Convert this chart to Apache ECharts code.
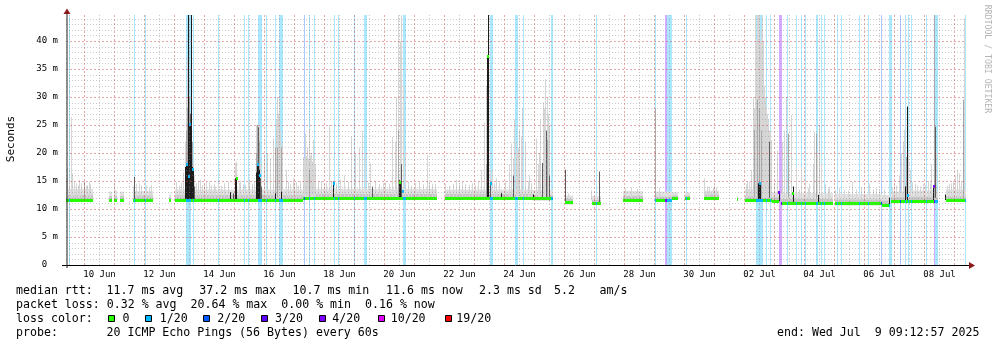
<!DOCTYPE html>
<html>
<head>
<meta charset="utf-8">
<script src="https://cdn.jsdelivr.net/npm/echarts@6/dist/echarts.min.js"></script>
<style>
  html, body { margin: 0; padding: 0; background: #ffffff; }
  #chart { width: 997px; height: 347px; }
</style>
</head>
<body>
<div id="chart"></div>
<script>
// ---- time window (MM-DD HH:MM[:SS], 2025) ----
const RANGE_START = '06-09 09:12:57';
const RANGE_END = '07-09 09:12:57';

// ---- x axis labels (centred on the day) ----
const tickLabels = ['10 Jun', '12 Jun', '14 Jun', '16 Jun', '18 Jun', '20 Jun', '22 Jun', '24 Jun',
  '26 Jun', '28 Jun', '30 Jun', '02 Jul', '04 Jul', '06 Jul', '08 Jul'];
const tickLabelTimes = ['06-10 12:00', '06-12 12:00', '06-14 12:00', '06-16 12:00', '06-18 12:00',
  '06-20 12:00', '06-22 12:00', '06-24 12:00', '06-26 12:00', '06-28 12:00', '06-30 12:00',
  '07-02 12:00', '07-04 12:00', '07-06 12:00', '07-08 12:00'];

// ---- loss colours (lost pings out of 20) ----
const lossLevels = [0, 1, 2, 3, 4, 10, 19];
const lossLevelNames = ['0', '1/20', '2/20', '3/20', '4/20', '10/20', '19/20'];
const lossLevelColors = ['#26ff00', '#00b8ff', '#0059ff', '#5e00ff', '#7e00ff', '#dd00ff', '#ff0000'];

// ---- periods with packet loss: [from, to, lost pings] ----
const lossPeriods = [
  ['06-09 11:17', '06-09 12:14', 1], ['06-11 15:36', '06-11 16:24', 1], ['06-12 00:24', '06-12 01:12', 1],
  ['06-13 09:12', '06-13 12:58', 1], ['06-13 14:34', '06-13 15:50', 1], ['06-14 11:02', '06-14 11:50', 1],
  ['06-15 07:36', '06-15 08:24', 1], ['06-15 11:02', '06-15 11:50', 1], ['06-15 18:34', '06-15 22:14', 1],
  ['06-16 01:12', '06-16 02:00', 1], ['06-16 08:24', '06-16 09:12', 1], ['06-16 11:50', '06-16 14:34', 1],
  ['06-17 07:36', '06-17 08:24', 2], ['06-17 12:00', '06-17 12:48', 1], ['06-17 15:36', '06-17 16:24', 1],
  ['06-18 07:36', '06-18 08:24', 1], ['06-18 10:48', '06-18 11:36', 1], ['06-18 23:36', '06-19 00:24', 1],
  ['06-19 07:50', '06-19 10:24', 1], ['06-20 14:34', '06-20 16:58', 1], ['06-23 12:24', '06-23 14:38', 1],
  ['06-24 08:24', '06-24 10:34', 1], ['06-24 14:48', '06-24 15:36', 1], ['06-25 13:12', '06-25 14:34', 1],
  ['06-27 01:12', '06-27 02:00', 1], ['06-29 00:48', '06-29 01:36', 1], ['06-29 08:48', '06-29 09:50', 4],
  ['06-29 10:24', '06-29 14:14', 1], ['06-30 01:12', '06-30 02:00', 1], ['07-02 09:12', '07-02 15:02', 1],
  ['07-02 17:12', '07-02 18:00', 1], ['07-02 20:48', '07-02 21:36', 1], ['07-03 03:36', '07-03 06:00', 4],
  ['07-03 10:00', '07-03 10:48', 1], ['07-03 17:12', '07-03 18:00', 1], ['07-03 21:12', '07-03 22:00', 1],
  ['07-04 00:48', '07-04 01:36', 1], ['07-04 09:12', '07-04 10:48', 1], ['07-04 13:36', '07-04 14:24', 1],
  ['07-04 16:00', '07-04 16:48', 1], ['07-05 01:46', '07-05 02:34', 1], ['07-05 05:36', '07-05 06:24', 1],
  ['07-05 19:36', '07-05 20:24', 1], ['07-06 02:48', '07-06 03:36', 1], ['07-06 13:36', '07-06 14:24', 2],
  ['07-06 19:46', '07-06 22:14', 1], ['07-07 04:24', '07-07 05:12', 2], ['07-07 08:24', '07-07 09:12', 1],
  ['07-07 10:48', '07-07 11:36', 1], ['07-07 13:12', '07-07 14:24', 1], ['07-08 01:12', '07-08 02:00', 1],
  ['07-08 07:22', '07-08 08:48', 4], ['07-08 08:48', '07-08 10:48', 1], ['07-09 08:24', '07-09 09:12', 1]
];

// ---- stretches with data: [from, to, median ms, inner smoke ms, outer smoke ms] ----
const medianRuns = [
  ['06-09 09:13', '06-10 06:48', 11.6, 12.5, 13.6],
  ['06-10 19:36', '06-10 22:00', 11.6, 12.3, 13.1],
  ['06-10 23:36', '06-11 02:00', 11.6, 12.3, 13.4],
  ['06-11 04:24', '06-11 07:36', 11.6, 12.3, 13.1],
  ['06-11 14:48', '06-12 06:48', 11.6, 12.4, 13.2],
  ['06-12 19:36', '06-12 21:12', 11.6, 12.1, 12.6],
  ['06-13 00:24', '06-17 06:48', 11.6, 12.5, 13.5],
  ['06-17 06:48', '06-21 18:00', 11.9, 12.7, 13.6],
  ['06-22 00:24', '06-24 22:48', 11.9, 12.7, 13.5],
  ['06-24 22:48', '06-25 14:34', 11.8, 12.5, 13.4],
  ['06-26 00:24', '06-26 06:48', 11.1, 11.8, 12.4],
  ['06-26 22:00', '06-27 05:12', 11.0, 11.6, 12.3],
  ['06-27 22:48', '06-28 14:48', 11.55, 12.3, 13.2],
  ['06-29 00:24', '06-29 14:00', 11.5, 12.2, 13.1],
  ['06-29 14:00', '06-29 18:48', 11.9, 12.4, 13.0],
  ['06-30 00:24', '06-30 04:24', 11.9, 12.4, 13.0],
  ['06-30 15:36', '07-01 03:36', 11.85, 12.6, 13.3],
  ['07-01 17:48', '07-01 19:00', 11.7, 12.0, 12.3],
  ['07-02 00:24', '07-02 22:00', 11.6, 12.3, 13.6],
  ['07-02 22:00', '07-03 03:36', 11.4, 12.1, 13.0],
  ['07-03 05:12', '07-04 22:48', 10.95, 11.8, 12.8],
  ['07-05 00:24', '07-06 14:00', 10.9, 11.7, 12.7],
  ['07-06 14:00', '07-06 20:24', 10.7, 11.5, 12.5],
  ['07-06 21:12', '07-07 10:00', 11.3, 12.1, 13.1],
  ['07-07 10:00', '07-08 06:48', 11.4, 12.2, 13.3],
  ['07-08 06:48', '07-08 10:48', 11.3, 12.1, 13.2],
  ['07-08 17:12', '07-09 09:13', 11.6, 12.3, 13.5]
];

// ---- isolated median readings above the baseline: [time, ms] ----
const medianPeaks = [
  ['06-13 10:00', 17.9], ['06-13 11:50', 15.8], ['06-13 12:48', 25.0], ['06-13 15:02', 17.0],
  ['06-15 01:46', 15.4], ['06-15 19:12', 18.0], ['06-15 20:48', 15.9], ['06-18 08:00', 14.6],
  ['06-20 12:24', 14.8], ['06-20 15:12', 13.1], ['06-23 10:48', 37.2], ['06-23 13:12', 14.6],
  ['07-02 12:48', 14.6], ['07-03 04:00', 13.0], ['07-03 15:12', 12.8], ['07-07 10:48', 12.4],
  ['07-08 08:00', 14.0]
];

// ---- ping spread columns: [time, from ms, to ms, shade 0 light .. 3 black] ----
const smokeColumns = [
  ['06-09 09:36', 12, 15.5, 0], ['06-09 10:48', 12, 17.3, 0], ['06-09 12:24', 12, 15, 0],
  ['06-09 14:00', 12, 26.4, 0], ['06-09 14:48', 12, 16.4, 0], ['06-09 16:00', 12, 14.8, 0],
  ['06-09 18:00', 12, 14.6, 0], ['06-09 19:12', 12, 14.2, 0], ['06-09 20:24', 12, 15.2, 0],
  ['06-09 22:00', 12, 14.6, 0], ['06-10 00:24', 11.6, 14.9, 1], ['06-10 01:36', 12, 14.1, 0],
  ['06-10 02:48', 12, 14.3, 0], ['06-10 04:00', 12, 14.8, 0], ['06-10 05:12', 12, 14.4, 0],
  ['06-11 00:24', 12, 14.6, 0], ['06-11 15:12', 12, 14.0, 0], ['06-11 16:00', 11.6, 15.7, 2],
  ['06-11 18:00', 12, 14.5, 0], ['06-11 20:24', 12, 14.6, 0], ['06-11 22:00', 12, 14.2, 0],
  ['06-12 02:00', 12, 14.2, 0], ['06-12 04:24', 12, 13.9, 0], ['06-12 05:36', 12, 14.3, 0],
  ['06-13 02:00', 12, 14.8, 0], ['06-13 04:00', 12, 14.2, 0], ['06-13 06:00', 12, 14.7, 0],
  ['06-13 07:36', 12, 16.5, 0],
  ['06-13 09:12', 12, 22, 0], ['06-13 09:12', 11.6, 17.5, 3],
  ['06-13 10:00', 12, 30, 0], ['06-13 10:00', 12, 24, 1], ['06-13 10:00', 11.6, 17.9, 3],
  ['06-13 10:48', 12, 37, 0], ['06-13 10:48', 12, 28, 1], ['06-13 10:48', 11.6, 18, 3],
  ['06-13 11:36', 11.6, 45, 3],
  ['06-13 12:24', 12, 30, 1], ['06-13 12:24', 11.6, 25, 3],
  ['06-13 13:12', 12, 27, 2], ['06-13 13:12', 11.6, 25, 3],
  ['06-13 14:00', 11.6, 45, 3],
  ['06-13 14:48', 12, 22, 1], ['06-13 14:48', 11.6, 17.5, 3],
  ['06-13 15:36', 12, 18, 0], ['06-13 15:36', 11.6, 17, 3],
  ['06-13 16:24', 12, 16, 0], ['06-13 16:24', 11.6, 14, 2],
  ['06-13 18:00', 12, 14.6, 0], ['06-13 19:36', 12, 14.9, 0], ['06-13 21:00', 12, 15.2, 0],
  ['06-13 22:48', 12, 14.3, 0], ['06-14 00:24', 12, 14.4, 0], ['06-14 02:00', 12, 14.8, 0],
  ['06-14 04:00', 12, 14.9, 0], ['06-14 06:00', 12, 14.3, 0], ['06-14 08:00', 12, 14.5, 0],
  ['06-14 09:12', 12, 14.0, 0], ['06-14 11:36', 12, 14.8, 0], ['06-14 14:00', 12, 14.2, 0],
  ['06-14 16:24', 12, 14.6, 0], ['06-14 19:12', 12, 14.9, 0],
  ['06-14 21:12', 11.6, 13, 3], ['06-14 23:12', 11.6, 12.8, 2],
  ['06-15 01:12', 12, 18.2, 0], ['06-15 01:12', 11.6, 15.5, 3],
  ['06-15 02:00', 12, 18.5, 0], ['06-15 02:00', 11.6, 15.5, 3],
  ['06-15 04:00', 12, 14.6, 0], ['06-15 05:12', 12, 15, 0], ['06-15 07:00', 12, 14.4, 0],
  ['06-15 09:12', 12, 14.3, 0], ['06-15 11:00', 12, 14.8, 0], ['06-15 12:24', 12, 15.2, 0],
  ['06-15 14:48', 12, 14.5, 0], ['06-15 16:00', 12, 14.9, 0],
  ['06-15 18:00', 12, 25, 0], ['06-15 18:00', 12, 20, 1], ['06-15 18:00', 11.6, 16.5, 3],
  ['06-15 18:48', 12, 25, 0], ['06-15 18:48', 12, 25, 1], ['06-15 18:48', 11.6, 18.2, 3],
  ['06-15 19:36', 12, 25, 0], ['06-15 19:36', 12, 24.6, 2], ['06-15 19:36', 11.6, 18, 3],
  ['06-15 20:24', 12, 25, 0], ['06-15 20:24', 12, 22, 1], ['06-15 20:24', 11.6, 17, 3],
  ['06-15 21:12', 12, 18, 0], ['06-15 21:12', 11.6, 15.5, 2],
  ['06-15 22:00', 12, 16, 0], ['06-15 22:00', 11.6, 14, 2],
  ['06-16 00:24', 12, 19.6, 0], ['06-16 02:48', 12, 20, 0], ['06-16 05:12', 12, 19, 0],
  ['06-16 07:36', 12, 22.6, 0], ['06-16 08:48', 12, 21, 1], ['06-16 08:48', 11.6, 12.8, 3],
  ['06-16 09:36', 12, 22.6, 0], ['06-16 10:00', 12, 26, 0], ['06-16 10:48', 12, 30, 0],
  ['06-16 10:48', 12, 21, 1], ['06-16 11:36', 12, 27, 0], ['06-16 12:24', 12, 29.5, 0],
  ['06-16 13:00', 12, 24, 0], ['06-16 13:26', 12, 21, 1], ['06-16 13:26', 11.6, 13.1, 3],
  ['06-16 14:48', 12, 22, 0], ['06-16 18:00', 12, 17, 0], ['06-16 19:36', 12, 14.9, 0],
  ['06-16 21:12', 12, 14.4, 0], ['06-16 23:00', 12, 15.4, 0], ['06-17 00:24', 12, 14.6, 0],
  ['06-17 02:00', 12, 14.8, 0], ['06-17 03:36', 12, 14.2, 0], ['06-17 05:12', 12, 15.0, 0],
  ['06-17 07:36', 12, 19.3, 0], ['06-17 08:24', 12, 19, 0], ['06-17 09:12', 12, 23.5, 0],
  ['06-17 10:00', 12, 19.5, 0], ['06-17 10:48', 12, 21, 0], ['06-17 11:36', 12, 19, 0],
  ['06-17 12:24', 12, 24.1, 0], ['06-17 12:24', 12, 17, 1], ['06-17 13:12', 12, 19.5, 0],
  ['06-17 14:00', 12, 20, 0], ['06-17 14:48', 12, 18.5, 0], ['06-17 15:36', 12, 22.3, 0],
  ['06-17 16:24', 12, 19, 0], ['06-17 17:12', 12, 18, 0], ['06-17 19:36', 12, 14.9, 0],
  ['06-17 22:00', 12, 15, 0], ['06-18 00:00', 12, 14.5, 0], ['06-18 02:00', 12, 14.6, 0],
  ['06-18 04:24', 12, 25, 0], ['06-18 06:00', 12, 15.0, 0], ['06-18 07:36', 11.9, 14.9, 3],
  ['06-18 10:00', 12, 14.6, 0], ['06-18 13:12', 12, 15.2, 0], ['06-18 16:24', 12, 16, 0],
  ['06-18 19:00', 12, 14.8, 0], ['06-18 22:00', 12, 23, 0], ['06-19 01:12', 12, 20, 0],
  ['06-19 04:24', 12, 21, 0], ['06-19 06:48', 12, 24, 0], ['06-19 09:12', 12, 20, 0],
  ['06-19 11:36', 12, 14.7, 0], ['06-19 13:12', 12, 18.2, 0], ['06-19 14:30', 11.9, 14, 2],
  ['06-19 17:00', 12, 14.9, 0], ['06-19 20:24', 12, 14.5, 0], ['06-19 23:00', 12, 14.6, 0],
  ['06-20 01:12', 12, 14.8, 0], ['06-20 04:00', 12, 14.5, 0], ['06-20 06:48', 12, 22.9, 0],
  ['06-20 09:12', 12, 22, 0], ['06-20 10:00', 12, 30, 0],
  ['06-20 11:12', 12, 45, 0], ['06-20 11:12', 12, 24, 1], ['06-20 12:00', 11.9, 15.2, 3],
  ['06-20 12:48', 12, 40, 0], ['06-20 12:48', 11.9, 15, 3],
  ['06-20 14:00', 12, 45, 0], ['06-20 14:00', 12, 18, 2],
  ['06-20 15:36', 12, 32, 0], ['06-20 17:12', 12, 20, 0], ['06-20 19:36', 12, 14.9, 0],
  ['06-20 22:00', 12, 14.2, 0], ['06-21 01:12', 12, 14.6, 0], ['06-21 04:24', 12, 14.8, 0],
  ['06-21 07:36', 12, 14.4, 0], ['06-21 10:48', 12, 19.6, 0], ['06-21 12:24', 12, 14.9, 0],
  ['06-21 14:48', 12, 14.5, 0], ['06-21 16:48', 12, 14.5, 0],
  ['06-22 01:12', 12, 14.6, 0], ['06-22 04:24', 12, 14.2, 0], ['06-22 07:36', 12, 14.5, 0],
  ['06-22 10:00', 12, 15.2, 0], ['06-22 12:24', 12, 14.6, 0], ['06-22 14:48', 12, 14.8, 0],
  ['06-22 17:12', 12, 14.4, 0], ['06-22 20:24', 12, 14.3, 0], ['06-22 22:48', 12, 14.6, 0],
  ['06-23 01:12', 12, 14.3, 0], ['06-23 03:36', 12, 14.8, 0], ['06-23 06:00', 12, 17, 0],
  ['06-23 08:24', 12, 25.4, 0], ['06-23 10:00', 12, 32, 0], ['06-23 10:00', 12, 18, 1],
  ['06-23 10:48', 11.9, 37.2, 3], ['06-23 11:36', 11.9, 45, 3],
  ['06-23 13:12', 12, 17, 0], ['06-23 13:12', 11.9, 14.6, 2],
  ['06-23 14:48', 12, 17, 0], ['06-23 16:24', 12, 14.5, 0], ['06-23 18:00', 12, 15.5, 0],
  ['06-23 20:00', 12, 14.7, 0], ['06-23 21:46', 11.9, 12.8, 3],
  ['06-24 01:12', 12, 15, 0], ['06-24 04:24', 12, 18, 0], ['06-24 06:00', 12, 21.7, 0],
  ['06-24 07:36', 12, 19, 0], ['06-24 07:36', 12, 16, 2], ['06-24 08:24', 12, 26, 0],
  ['06-24 09:36', 12, 22, 0], ['06-24 10:48', 12, 20, 0], ['06-24 11:36', 12, 21, 0],
  ['06-24 12:24', 12, 24, 0], ['06-24 13:36', 12, 23, 0], ['06-24 14:48', 12, 28, 0],
  ['06-24 17:12', 12, 22, 0], ['06-24 19:00', 12, 15.0, 0], ['06-24 20:24', 12, 16, 0],
  ['06-24 22:00', 12, 14.6, 0], ['06-24 23:36', 11.8, 12.6, 3],
  ['06-25 02:00', 12, 22.6, 0], ['06-25 03:36', 12, 18, 0], ['06-25 04:24', 12, 20, 0],
  ['06-25 05:12', 12, 26, 0], ['06-25 06:24', 11.8, 18.2, 2], ['06-25 07:36', 12, 29, 0],
  ['06-25 08:24', 12, 28, 0], ['06-25 09:12', 12, 33.2, 0], ['06-25 10:00', 11.8, 24, 2],
  ['06-25 10:48', 12, 30, 0], ['06-25 10:48', 12, 22.3, 1], ['06-25 11:36', 12, 27, 0],
  ['06-25 12:24', 12, 25, 0], ['06-25 12:24', 11.5, 16, 2],
  ['06-26 01:12', 11.1, 17, 2], ['06-26 03:36', 11.8, 12.8, 0], ['06-26 22:00', 11.5, 13.4, 0],
  ['06-27 03:50', 11.0, 16.7, 2], ['06-28 01:12', 12, 13.7, 0], ['06-28 06:00', 12, 13.9, 0],
  ['06-28 10:48', 12, 13.6, 0], ['06-29 01:12', 11.5, 28, 1], ['06-29 04:24', 12, 13.8, 0],
  ['06-30 16:24', 12, 15.5, 0], ['06-30 18:48', 12, 14.0, 0], ['06-30 20:24', 12, 14, 0],
  ['06-30 23:00', 12, 13.8, 0], ['07-01 00:24', 12, 14.2, 0], ['07-01 02:00', 12, 13.9, 0],
  ['07-02 01:36', 12, 14.5, 0], ['07-02 02:48', 12, 14.9, 0], ['07-02 04:24', 12, 14.9, 0],
  ['07-02 06:00', 12, 17, 0], ['07-02 07:36', 12, 30, 0], ['07-02 08:00', 12, 28, 0],
  ['07-02 08:24', 12, 24.1, 1], ['07-02 09:12', 12, 45, 0], ['07-02 09:36', 12, 40, 0],
  ['07-02 10:00', 12, 36, 0], ['07-02 10:24', 12, 42, 0],
  ['07-02 10:48', 12, 45, 0], ['07-02 10:48', 12, 29.5, 1], ['07-02 11:12', 12, 45, 0],
  ['07-02 11:36', 12, 38, 0], ['07-02 11:36', 11.6, 14.6, 3], ['07-02 12:00', 12, 44, 0],
  ['07-02 12:24', 12, 45, 0], ['07-02 12:24', 12, 28, 1], ['07-02 12:24', 11.6, 14.6, 3],
  ['07-02 13:12', 12, 40, 0], ['07-02 13:12', 11.6, 14.6, 3], ['07-02 13:36', 12, 42, 0],
  ['07-02 14:00', 12, 38, 0], ['07-02 14:00', 12, 24, 1], ['07-02 14:48', 12, 45, 0],
  ['07-02 15:00', 12, 40, 0], ['07-02 15:36', 12, 35, 0], ['07-02 16:24', 12, 32, 0],
  ['07-02 17:12', 12, 30, 0], ['07-02 18:00', 12, 28, 0], ['07-02 18:48', 12, 27, 0],
  ['07-02 19:36', 12, 26, 0], ['07-02 20:24', 12, 24, 0], ['07-02 20:24', 12, 22, 2],
  ['07-02 21:12', 12, 24, 0], ['07-02 22:00', 12, 22.3, 0], ['07-03 00:24', 12, 14.5, 0],
  ['07-03 02:48', 12, 20.5, 0], ['07-03 04:00', 11.4, 13.1, 3], ['07-03 06:48', 12, 22, 0],
  ['07-03 08:24', 12, 24, 0], ['07-03 10:00', 12, 30, 0], ['07-03 11:36', 12, 23.5, 1],
  ['07-03 13:46', 12, 26.8, 0], ['07-03 15:12', 11, 14, 3], ['07-03 18:00', 12, 17.5, 0],
  ['07-03 20:00', 12, 13.5, 0], ['07-03 21:46', 12, 17.5, 0], ['07-04 01:12', 12, 15, 0],
  ['07-04 03:00', 12, 13.7, 0], ['07-04 04:24', 12, 14.5, 0], ['07-04 07:36', 12, 18, 0],
  ['07-04 08:24', 12, 23.8, 0], ['07-04 09:46', 12, 23.5, 1], ['07-04 10:48', 12, 20, 0],
  ['07-04 11:36', 11, 12.5, 3], ['07-04 12:24', 12, 25, 0], ['07-04 14:00', 12, 18, 0],
  ['07-04 17:12', 12, 14.5, 0], ['07-04 19:00', 12, 13.6, 0], ['07-04 20:24', 12, 14, 0],
  ['07-05 01:12', 12, 13.4, 0], ['07-05 04:24', 12, 13.8, 0], ['07-05 08:00', 12, 13.5, 0],
  ['07-05 11:12', 12, 13.3, 0], ['07-05 14:48', 12, 14.9, 0], ['07-05 17:36', 12, 13.5, 0],
  ['07-05 22:00', 12, 13.9, 0], ['07-06 00:24', 12, 13.6, 0], ['07-06 04:24', 12, 14.6, 0],
  ['07-06 07:12', 12, 13.4, 0], ['07-06 10:00', 12, 13.7, 0], ['07-06 12:00', 12, 13.5, 0],
  ['07-06 16:24', 12, 13.5, 0], ['07-06 20:24', 10.6, 12, 3], ['07-06 22:48', 12, 13.9, 0],
  ['07-07 00:24', 12, 14.4, 0], ['07-07 02:00', 12, 14.2, 0], ['07-07 04:24', 12, 16, 0],
  ['07-07 06:00', 12, 20, 0], ['07-07 07:36', 12, 22, 0], ['07-07 08:24', 12, 24.1, 0],
  ['07-07 09:12', 11.3, 14, 3], ['07-07 10:00', 12, 19.3, 1], ['07-07 10:48', 11.4, 28.3, 3],
  ['07-07 11:36', 12, 20, 0], ['07-07 13:12', 12, 17, 0], ['07-07 14:48', 12, 14.8, 0],
  ['07-07 16:48', 12, 14.5, 0], ['07-07 18:48', 12, 14.2, 0], ['07-07 20:48', 12, 14.0, 0],
  ['07-07 23:36', 12, 14.5, 0], ['07-08 01:12', 12, 14.3, 0], ['07-08 03:36', 12, 15, 0],
  ['07-08 04:48', 12, 14.6, 0], ['07-08 06:00', 12, 18, 0],
  ['07-08 07:36', 11.3, 14, 3], ['07-08 08:24', 12, 45, 1], ['07-08 09:12', 12, 24.7, 2],
  ['07-08 10:00', 12, 20, 0], ['07-08 17:12', 11.6, 12.6, 3], ['07-08 18:48', 12, 14.2, 0],
  ['07-08 20:24', 12, 14.5, 0], ['07-08 22:00', 12, 14.6, 0], ['07-08 23:36', 12, 15, 0],
  ['07-09 01:12', 12, 16, 0], ['07-09 02:48', 12, 17, 0], ['07-09 04:24', 12, 16.4, 0],
  ['07-09 06:00', 12, 15, 0], ['07-09 07:36', 12, 29.5, 1], ['07-09 08:24', 12, 44, 0]
];

// ---- legend statistics ----
const medianStats = [['11.7 ms avg', 106.5], ['37.2 ms max', 199.3], ['10.7 ms min', 292.5],
  ['11.6 ms now', 386], ['2.3 ms sd', 479], ['5.2', 554], ['am/s', 599.5]];
const lossStatsLine = 'packet loss: 0.32 % avg  20.64 % max  0.00 % min  0.16 % now';
const probeText = '20 ICMP Echo Pings (56 Bytes) every 60s';
const endText = 'end: Wed Jul  9 09:12:57 2025';

// ---------------------------------------------------------------------------
const FONT = '"DejaVu Sans Mono", monospace';
const SHADES = ['#d6d6d6', '#a9a9a9', '#5c5c5c', '#1c1c1c'];
const Y_MAX = 44.64;

function toHour(s) {
  const [d, t] = s.split(' ');
  const [mo, da] = d.split('-').map(Number);
  const [hh, mm, ss = 0] = t.split(':').map(Number);
  const dayIndex = mo === 6 ? da - 9 : da + 21;   // days after 9 Jun
  return dayIndex * 24 + hh + mm / 60 + ss / 3600;
}
function tint(hex, a) {
  const n = parseInt(hex.slice(1), 16);
  return 'rgba(' + (n >> 16) + ',' + ((n >> 8) & 255) + ',' + (n & 255) + ',' + a + ')';
}
function lossColor(level) { return lossLevelColors[lossLevels.indexOf(level)]; }

const X_MIN = toHour(RANGE_START);
const X_MAX = toHour(RANGE_END);

const lossData = lossPeriods.map(p => [toHour(p[0]), toHour(p[1]), p[2]]);
const runData = medianRuns.map(r => [toHour(r[0]), toHour(r[1]), r[2], r[3], r[4]]);
const peakData = medianPeaks.map(p => [toHour(p[0]), p[1]]);
const smokeData = smokeColumns.map(c => [toHour(c[0]), c[1], c[2], c[3]])
  .sort((a, b) => a[3] - b[3]);

function lossAt(h) {
  for (const b of lossData) if (h >= b[0] && h < b[1]) return b[2];
  return 0;
}

// grid lines: every 12 h vertically (midnight = major), every 1 ms horizontally (5 ms = major)
const vGrid = [];
for (let h = 12; h < X_MAX; h += 12) if (h > X_MIN) vGrid.push([h, h % 24 === 0 ? 1 : 0]);
const hGrid = [];
for (let v = 1; v < Y_MAX; v++) hGrid.push([v, v % 5 === 0 ? 1 : 0]);

const labelByHour = {};
tickLabelTimes.forEach((t, i) => { labelByHour[toHour(t).toFixed(3)] = tickLabels[i]; });

const chart = echarts.init(document.getElementById('chart'), null, { renderer: 'canvas' });

function xPix(api, h) { return Math.round(api.coord([h, 0])[0]); }
function yPix(api, v) { return api.coord([X_MIN, v])[1]; }

const MAJOR = 'rgba(210,60,60,0.45)';
const MINOR = 'rgba(128,128,128,0.42)';

const option = {
  animation: false,
  backgroundColor: '#ffffff',
  grid: { left: 66, top: 15, width: 900, height: 250, containLabel: false },
  xAxis: {
    type: 'value', min: X_MIN, max: X_MAX,
    axisLine: { show: false }, axisTick: { show: false }, splitLine: { show: false },
    axisLabel: {
      customValues: tickLabelTimes.map(toHour),
      formatter: v => labelByHour[v.toFixed(3)] || '',
      fontFamily: FONT, fontSize: 9, color: '#000', margin: 5
    }
  },
  yAxis: {
    type: 'value', min: 0, max: Y_MAX, interval: 5,
    axisLine: { show: false }, axisTick: { show: false }, splitLine: { show: false },
    axisLabel: {
      formatter: v => v === 0 ? '0  ' : (v % 5 === 0 && v <= 40 ? v + ' m' : ''),
      fontFamily: FONT, fontSize: 9, color: '#000', margin: 8
    }
  },
  series: [
    { // loss background bars
      type: 'custom', z: 1, silent: true, clip: true,
      data: lossData, encode: { x: [0, 1] },
      renderItem: (params, api) => {
        const cs = params.coordSys;
        const x0 = xPix(api, api.value(0)), x1 = xPix(api, api.value(1));
        return { type: 'rect', shape: { x: x0, y: cs.y, width: Math.max(1, x1 - x0), height: cs.height },
          style: { fill: tint(lossColor(api.value(2)), 0.33) } };
      }
    },
    { // base smoke band around the median
      type: 'custom', z: 2, silent: true, clip: true,
      data: runData, encode: { x: [0, 1] },
      renderItem: (params, api) => {
        const x0 = xPix(api, api.value(0)), x1 = xPix(api, api.value(1));
        const yB = yPix(api, api.value(2) - 0.25);
        const yI = yPix(api, api.value(3)), yO = yPix(api, api.value(4));
        return { type: 'group', children: [
          { type: 'rect', shape: { x: x0, y: yO, width: x1 - x0, height: yB - yO }, style: { fill: '#e1e1e1' } },
          { type: 'rect', shape: { x: x0, y: yI, width: x1 - x0, height: yB - yI }, style: { fill: '#c6c6c6' } }
        ] };
      }
    },
    { // smoke columns
      type: 'custom', z: 3, silent: true, clip: true,
      data: smokeData, encode: { x: 0 },
      renderItem: (params, api) => {
        const cs = params.coordSys;
        const x = Math.round(api.coord([api.value(0), 0])[0] - 0.5);
        const yB = yPix(api, api.value(1));
        const yT = Math.max(cs.y, yPix(api, api.value(2)));
        return { type: 'rect', shape: { x: x, y: yT, width: 1, height: yB - yT },
          style: { fill: SHADES[api.value(3)] } };
      }
    },
    { // median line
      type: 'custom', z: 5, silent: true, clip: true,
      data: runData, encode: { x: [0, 1] },
      renderItem: (params, api) => {
        const x0 = xPix(api, api.value(0)), x1 = xPix(api, api.value(1));
        const yc = yPix(api, api.value(2));
        return { type: 'rect', shape: { x: x0, y: Math.round(yc - 1.5), width: x1 - x0, height: 3 },
          style: { fill: lossLevelColors[0] } };
      }
    },
    { // median line coloured by loss
      type: 'custom', z: 6, silent: true, clip: true,
      data: lossData, encode: { x: [0, 1] },
      renderItem: (params, api) => {
        const a = api.value(0), b = api.value(1);
        const run = runData.find(r => r[0] < b && r[1] > a);
        if (!run) return null;
        const x0 = xPix(api, Math.max(a, run[0])), x1 = xPix(api, Math.min(b, run[1]));
        const yc = yPix(api, run[2]);
        return { type: 'rect', shape: { x: x0, y: Math.round(yc - 1.5), width: Math.max(1, x1 - x0), height: 3 },
          style: { fill: lossColor(api.value(2)) } };
      }
    },
    { // isolated median readings
      type: 'custom', z: 7, silent: true, clip: true,
      data: peakData, encode: { x: 0, y: 1 },
      renderItem: (params, api) => {
        const h = api.value(0);
        const p = api.coord([h, api.value(1)]);
        return { type: 'rect', shape: { x: Math.round(p[0] - 1), y: Math.round(p[1] - 1.5), width: 2, height: 3 },
          style: { fill: lossColor(lossAt(h)) } };
      }
    },
    { // vertical grid
      type: 'custom', z: 10, silent: true,
      data: vGrid, encode: { x: 0 },
      renderItem: (params, api) => {
        const cs = params.coordSys;
        const x = xPix(api, api.value(0)) + 0.5;
        const major = api.value(1) === 1;
        return { type: 'line', shape: { x1: x, y1: cs.y, x2: x, y2: cs.y + cs.height },
          style: { stroke: major ? MAJOR : MINOR, lineWidth: 1, lineDash: major ? [2, 2] : [1, 2] } };
      }
    },
    { // horizontal grid
      type: 'custom', z: 10, silent: true,
      data: hGrid, encode: { y: 0 },
      renderItem: (params, api) => {
        const cs = params.coordSys;
        const y = Math.round(yPix(api, api.value(0))) + 0.5;
        const major = api.value(1) === 1;
        return { type: 'line', shape: { x1: cs.x, y1: y, x2: cs.x + cs.width, y2: y },
          style: { stroke: major ? MAJOR : MINOR, lineWidth: 1, lineDash: major ? [2, 2] : [1, 2] } };
      }
    }
  ],
  graphic: []
};

// axes, arrows, titles and legend text
const g = [];
g.push({ type: 'line', z: 20, shape: { x1: 62, y1: 265.5, x2: 969, y2: 265.5 }, style: { stroke: '#000', lineWidth: 1 } });
g.push({ type: 'line', z: 20, shape: { x1: 67, y1: 12, x2: 67, y2: 268 }, style: { stroke: '#202020', lineWidth: 1 } });
g.push({ type: 'polygon', z: 21, shape: { points: [[67, 8.5], [63.5, 14], [70.5, 14]] }, style: { fill: '#8b1a1a' } });
g.push({ type: 'polygon', z: 21, shape: { points: [[975, 265.5], [969, 262], [969, 269]] }, style: { fill: '#8b1a1a' } });
g.push({ type: 'text', x: 11, y: 139, rotation: Math.PI / 2,
  style: { text: 'Seconds', font: '11px ' + FONT, fill: '#000', align: 'center', verticalAlign: 'middle' } });
g.push({ type: 'text', x: 987, y: 59, rotation: -Math.PI / 2,
  style: { text: 'RRDTOOL / TOBI OETIKER', font: '8.2px ' + FONT, fill: '#b4b4b4', align: 'center', verticalAlign: 'middle' } });

function legendText(text, x, y) {
  g.push({ type: 'text', x: x, y: y, style: { text: text, font: '11.6px ' + FONT, fill: '#000', verticalAlign: 'middle' } });
}
legendText('median rtt:', 16, 291);
medianStats.forEach(s => legendText(s[0], s[1], 291));
legendText(lossStatsLine, 16, 305);
legendText('loss color:', 16, 319);
const boxX = [108, 145, 203, 261, 319, 378, 445];
const boxLabelX = [122.5, 159.7, 217.3, 275, 332.3, 390.7, 456.3];
lossLevels.forEach((lv, i) => {
  g.push({ type: 'rect', z: 5, shape: { x: boxX[i] + 0.5, y: 315.5, width: 6, height: 6 },
    style: { fill: lossLevelColors[i], stroke: '#000', lineWidth: 1 } });
  legendText(lossLevelNames[i], boxLabelX[i], 319);
});
legendText('probe:', 16, 333);
legendText(probeText, 106.5, 333);
legendText(endText, 777, 333);
option.graphic = g;

chart.setOption(option);
</script>
</body>
</html>
